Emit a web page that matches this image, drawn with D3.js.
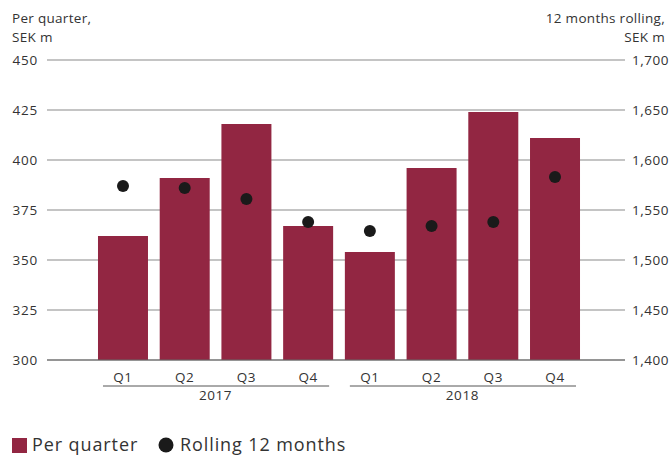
<!DOCTYPE html>
<html>
<head>
<meta charset="utf-8">
<script src="https://cdn.jsdelivr.net/npm/d3@7"></script>
<style>
  body { margin: 0; background: #fff; }
  svg text { font-family: "Open Sans", sans-serif; fill: #333; }
</style>
</head>
<body>
<div id="chart"></div>
<script>
// data
var quarters = ["Q1", "Q2", "Q3", "Q4", "Q1", "Q2", "Q3", "Q4"];
var years = ["2017", "2018"];
var perQuarter = [362, 391, 418, 367, 354, 396, 424, 411];
var rolling12 = [1574, 1572, 1561, 1538, 1529, 1534, 1538, 1583];
var leftTicks = [300, 325, 350, 375, 400, 425, 450];
var rightTicks = [1400, 1450, 1500, 1550, 1600, 1650, 1700];

var WIDTH = 669, HEIGHT = 456;
var BARCOLOR = "#922642", DOTCOLOR = "#1a1a1a", GRID = "#8a8a8a";

var svg = d3.select("#chart").append("svg")
  .attr("width", WIDTH)
  .attr("height", HEIGHT);

var idx = quarters.map((q, i) => i);
var x = d3.scaleBand().domain(idx).range([92, 586]).paddingInner(0.19).paddingOuter(0.097);
var yL = d3.scaleLinear().domain([300, 450]).range([360, 60]);
var yR = d3.scaleLinear().domain([1400, 1700]).range([360, 60]);

// left axis labels
var yAxisL = d3.axisLeft(yL).tickValues(leftTicks).tickSize(0).tickPadding(9);
var gl = svg.append("g").attr("transform", "translate(47,0)").call(yAxisL);
gl.select(".domain").remove();
gl.selectAll("text").style("font-size", "13.5px").style("letter-spacing", "0.8px").attr("fill", "#333");

// right axis labels
var yAxisR = d3.axisRight(yR).tickValues(rightTicks).tickSize(0).tickPadding(7)
  .tickFormat(d3.format(","));
var gr = svg.append("g").attr("transform", "translate(625,0)").call(yAxisR);
gr.select(".domain").remove();
gr.selectAll("text").style("font-size", "13.5px").style("letter-spacing", "0.5px").attr("fill", "#333");

// gridlines
svg.append("g").selectAll("line").data(leftTicks).join("line")
  .attr("x1", 47).attr("x2", 625)
  .attr("y1", d => yL(d)).attr("y2", d => yL(d))
  .attr("stroke", GRID).attr("stroke-width", 1.2);

// bars
svg.append("g").selectAll("rect").data(perQuarter).join("rect")
  .attr("x", (d, i) => x(i))
  .attr("y", d => yL(d))
  .attr("width", x.bandwidth())
  .attr("height", d => yL(300) - yL(d))
  .attr("fill", BARCOLOR);

// baseline over bars
svg.append("line")
  .attr("x1", 47).attr("x2", 625)
  .attr("y1", yL(300)).attr("y2", yL(300))
  .attr("stroke", "#666").attr("stroke-width", 1.2);

// rolling dots
svg.append("g").selectAll("circle").data(rolling12).join("circle")
  .attr("cx", (d, i) => x(i) + x.bandwidth() / 2)
  .attr("cy", d => yR(d))
  .attr("r", 6)
  .attr("fill", DOTCOLOR);

// quarter labels
svg.append("g").selectAll("text").data(quarters).join("text")
  .attr("x", (d, i) => x(i) + x.bandwidth() / 2)
  .attr("y", 382)
  .attr("text-anchor", "middle")
  .style("font-size", "13.5px")
  .style("letter-spacing", "0.6px")
  .text(d => d);

// year groups
var yg = svg.append("g").selectAll("g").data(years).join("g");
yg.append("line")
  .attr("x1", (d, i) => x(i * 4) + 5)
  .attr("x2", (d, i) => x(i * 4 + 3) + x.bandwidth() - 4)
  .attr("y1", 386).attr("y2", 386)
  .attr("stroke", "#555").attr("stroke-width", 1);
yg.append("text")
  .attr("x", (d, i) => (x(i * 4) + x(i * 4 + 3) + x.bandwidth()) / 2)
  .attr("y", 400)
  .attr("text-anchor", "middle")
  .style("font-size", "13.5px")
  .style("letter-spacing", "0.6px")
  .text(d => d);

// axis titles
var tStyle = t => t.style("font-size", "13.5px").style("letter-spacing", "0.3px");
svg.append("text").attr("x", 12).attr("y", 23).call(tStyle).text("Per quarter,");
svg.append("text").attr("x", 12).attr("y", 42).call(tStyle).text("SEK m");
svg.append("text").attr("x", 665).attr("y", 23).attr("text-anchor", "end").call(tStyle).text("12 months rolling,");
svg.append("text").attr("x", 665).attr("y", 42).attr("text-anchor", "end").call(tStyle).text("SEK m");

// legend
var lg = svg.append("g");
lg.append("rect").attr("x", 12).attr("y", 438).attr("width", 15).attr("height", 15).attr("fill", BARCOLOR);
lg.append("text").attr("x", 32).attr("y", 451).style("font-size", "18px").style("letter-spacing", "0.9px").text("Per quarter");
lg.append("circle").attr("cx", 166).attr("cy", 445).attr("r", 7.5).attr("fill", DOTCOLOR);
lg.append("text").attr("x", 180).attr("y", 451).style("font-size", "18px").style("letter-spacing", "0.9px").text("Rolling 12 months");
</script>
</body>
</html>
